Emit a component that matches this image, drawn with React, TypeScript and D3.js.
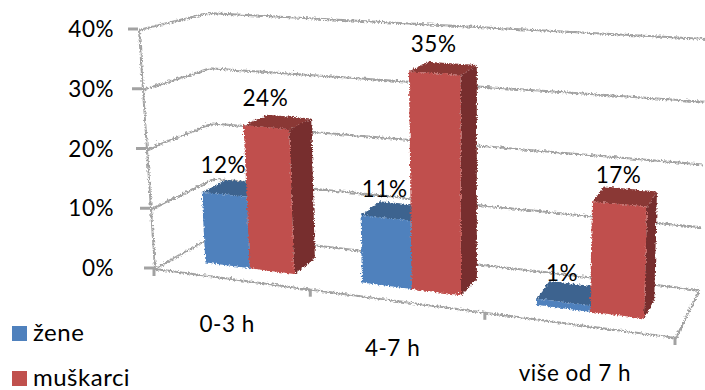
import React from "react";
import * as d3 from "d3";

const categories = ["0-3 h", "4-7 h", "više od 7 h"];
const zene = [12, 11, 1];
const muskarci = [24, 35, 17];
const seriesNames = ["žene", "muškarci"];
const valueTicks = [0, 10, 20, 30, 40];
const categoryEdges = [0, 1, 2, 3];

const FONT = "Lato, 'Open Sans', sans-serif";
const GRID = "#a2a2a2";

// Perspective of the box: screen position of each corner, [x, y].
const frontLeftFloor: [number, number] = [154, 268];
const frontLeftTop: [number, number] = [138, 29];
const backLeftFloor: [number, number] = [215, 233];
const backLeftTop: [number, number] = [207, 12];
const frontRightFloor: [number, number] = [675, 337];
const frontRightTop: [number, number] = [685, 65];
const backRightFloor: [number, number] = [698, 289];
const backRightTop: [number, number] = [705, 38];

// Categories get wider toward the viewer's right because of foreshortening.
const catScale = d3.scaleLinear().domain(categoryEdges).range([0, 0.3, 0.635, 1]);
const valueScale = d3.scaleLinear().domain([0, 40]).range([0, 1]);

const mix = (a: [number, number], b: [number, number], t: number): [number, number] => [
  a[0] + (b[0] - a[0]) * t,
  a[1] + (b[1] - a[1]) * t,
];

// cat: position along the category axis, depth: 0 front to 1 back, value: percent
function project(cat: number, depth: number, value: number): [number, number] {
  const u = catScale(cat);
  const v = valueScale(value);
  const floor = mix(
    mix(frontLeftFloor, frontRightFloor, u),
    mix(backLeftFloor, backRightFloor, u),
    depth,
  );
  const top = mix(
    mix(frontLeftTop, frontRightTop, u),
    mix(backLeftTop, backRightTop, u),
    depth,
  );
  return mix(floor, top, v);
}

const polyPath = (pts: [number, number][]) => d3.line()(pts)! + "Z";

const DEPTH_FRONT = 0.3;
const DEPTH_BACK = 0.7;
const BAR_MARGIN = 0.21;
const BAR_WIDTH = 0.29;

type Shade = { front: string; top: string; side: string };
const blue: Shade = { front: "#4f81bd", top: "#3e648f", side: "#355a85" };
const red: Shade = { front: "#c0504d", top: "#8a3836", side: "#772f2d" };

function Bar({ c0, c1, value, shade }: { c0: number; c1: number; value: number; shade: Shade }) {
  const f0 = project(c0, DEPTH_FRONT, 0);
  const f1 = project(c1, DEPTH_FRONT, 0);
  const b1 = project(c1, DEPTH_BACK, 0);
  const ft0 = project(c0, DEPTH_FRONT, value);
  const ft1 = project(c1, DEPTH_FRONT, value);
  const bt0 = project(c0, DEPTH_BACK, value);
  const bt1 = project(c1, DEPTH_BACK, value);
  return (
    <g>
      <path d={polyPath([f1, b1, bt1, ft1])} fill={shade.side} />
      <path d={polyPath([ft0, ft1, bt1, bt0])} fill={shade.top} />
      <path d={polyPath([f0, f1, ft1, ft0])} fill={shade.front} />
    </g>
  );
}

function GridLine({ pts, width = 2 }: { pts: [number, number][]; width?: number }) {
  return <path d={d3.line()(pts)!} fill="none" stroke={GRID} strokeWidth={width} />;
}

export default function App() {
  const textStyle = { fontFamily: FONT, fontSize: 22.5, letterSpacing: 0.5, fill: "#000" };
  return (
    <svg
      width={705}
      height={390}
      style={{ position: "absolute", left: 0, top: 0, background: "#fff" }}
    >
      <defs>
        {/* serrated, low-resolution edge on the 3D marks */}
        <filter id="rough" x="-5%" y="-5%" width="110%" height="110%" filterUnits="objectBoundingBox">
          <feTurbulence type="turbulence" baseFrequency="0.33" numOctaves={1} seed={4} result="n" />
          <feDisplacementMap in="SourceGraphic" in2="n" scale={3.5} xChannelSelector="R" yChannelSelector="G" />
          <feGaussianBlur stdDeviation={0.35} />
        </filter>
      </defs>

      {/* walls and floor */}
      <g filter="url(#rough)">
        {valueTicks.map((t) => (
          <GridLine
            key={t}
            pts={[project(0, 0, t), project(0, 1, t), project(3, 1, t)]}
          />
        ))}
        <GridLine pts={[project(0, 0, 0), project(0, 0, 40)]} />
        <GridLine pts={[project(0, 0, 0), project(3, 0, 0), project(3, 1, 0)]} />
      </g>

      {/* axis ticks */}
      {valueTicks.map((t) => {
        const p = project(0, 0, t);
        return (
          <g key={t}>
            <GridLine pts={[[p[0] - 10, p[1]], p]} width={3} />
            <text {...textStyle} x={114} y={p[1] + 8} textAnchor="end">
              {t}%
            </text>
          </g>
        );
      })}
      {categoryEdges.map((c) => {
        const p = project(c, 0, 0);
        return <GridLine key={c} pts={[p, [p[0], p[1] + 8]]} width={3} />;
      })}

      {/* bars, back-to-front within each category */}
      <g filter="url(#rough)">
        {categories.map((name, i) => {
          const mid = i + BAR_MARGIN + BAR_WIDTH;
          const end = mid + BAR_WIDTH;
          return (
            <g key={name}>
              <Bar c0={i + BAR_MARGIN} c1={mid} value={zene[i]} shade={blue} />
              <Bar c0={mid} c1={end} value={muskarci[i]} shade={red} />
            </g>
          );
        })}
      </g>

      {/* value labels above the front face of each bar */}
      {categories.map((name, i) => {
        const mid = i + BAR_MARGIN + BAR_WIDTH;
        const a = project(i + BAR_MARGIN + BAR_WIDTH / 2, DEPTH_FRONT, zene[i]);
        const b = project(mid + BAR_WIDTH / 2, DEPTH_FRONT, muskarci[i]);
        return (
          <g key={name} textAnchor="middle">
            <text {...textStyle} x={a[0]} y={a[1] - 20}>
              {zene[i]}%
            </text>
            <text {...textStyle} x={b[0]} y={b[1] - 20}>
              {muskarci[i]}%
            </text>
          </g>
        );
      })}

      {/* category labels */}
      {categories.map((name, i) => {
        const p = project(i + 0.5, 0, 0);
        return (
          <text
            key={name}
            {...textStyle}
            x={p[0] - 5}
            y={p[1] + 53 + 5 * catScale(i + 0.5)}
            textAnchor="middle"
          >
            {name}
          </text>
        );
      })}

      {/* legend */}
      {seriesNames.map((name, i) => {
        const y = d3.scaleLinear().domain([0, 1]).range([326, 371])(i);
        return (
          <g key={name}>
            <rect x={12} y={y} width={15} height={15} fill={[blue, red][i].front} />
            <text {...textStyle} fontSize={24} x={33} y={y + 15}>
              {name}
            </text>
          </g>
        );
      })}
    </svg>
  );
}
